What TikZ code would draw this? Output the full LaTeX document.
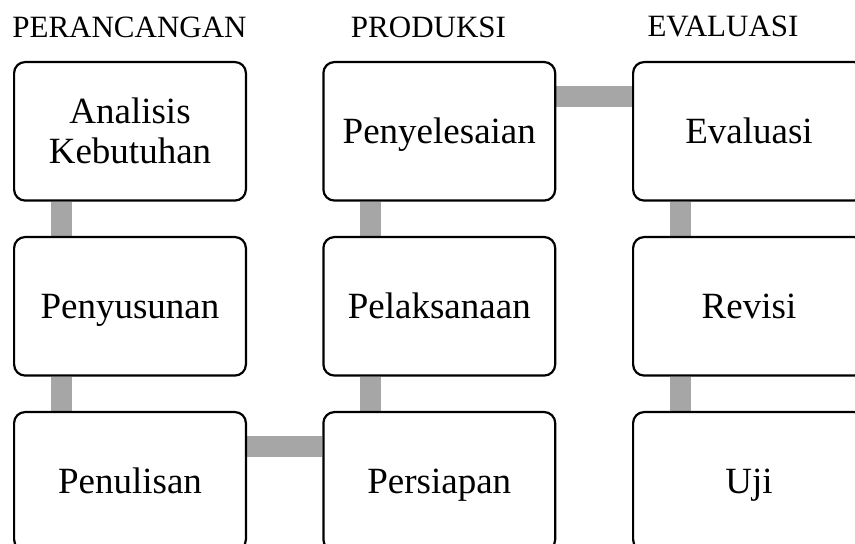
\documentclass[tikz,border=0pt]{standalone}
\usepackage{fontspec}
\setmainfont{Liberation Serif}
\usetikzlibrary{backgrounds}
\tikzset{
  stepbox/.style={draw=black, line width=2.2pt, rounded corners=11pt, fill=white,
    minimum width=231.8pt, minimum height=138.5pt, inner sep=0pt, align=center,
    font=\fontsize{37}{40}\selectfont},
  oneline/.style={stepbox, text height=25.3pt, text depth=0pt},
  header/.style={anchor=base, inner sep=0pt, font=\fontsize{31}{34}\selectfont},
  conn/.style={draw={rgb,255:red,166;green,166;blue,166}, line width=21pt}
}
\begin{document}
\begin{tikzpicture}[x=1pt,y=-1pt]
\useasboundingbox (0,0) rectangle (855,544);
\clip (0,0) rectangle (855,544);
\node[header] (h1) at (129.5,37.5) {PERANCANGAN};
\node[header] (h2) at (428.5,37.5) {PRODUKSI};
\node[header] (h3) at (723,36) {EVALUASI};

\node[stepbox] (a1) at (130,131.3) {Analisis\\Kebutuhan};
\node[oneline] (a2) at (130,306.3) {Penyusunan};
\node[oneline] (a3) at (130,481.3) {Penulisan};
\node[oneline] (b1) at (439.3,131.3) {Penyelesaian};
\node[oneline] (b2) at (439.3,306.3) {Pelaksanaan};
\node[oneline] (b3) at (439.3,481.3) {Persiapan};
\node[oneline] (c1) at (749,131.3) {Evaluasi};
\node[oneline] (c2) at (749,306.3) {Revisi};
\node[oneline] (c3) at (749,481.3) {Uji};

\begin{pgfonlayer}{background}
\draw[conn] ([xshift=-69pt]a1.south) -- ([xshift=-69pt]a2.north);
\draw[conn] ([xshift=-69pt]a2.south) -- ([xshift=-69pt]a3.north);
\draw[conn] ([xshift=-69pt]b3.north) -- ([xshift=-69pt]b2.south);
\draw[conn] ([xshift=-69pt]b2.north) -- ([xshift=-69pt]b1.south);
\draw[conn] ([xshift=-69pt]c1.south) -- ([xshift=-69pt]c2.north);
\draw[conn] ([xshift=-69pt]c2.south) -- ([xshift=-69pt]c3.north);
\draw[conn] ([yshift=35pt]a3.east) -- ([yshift=35pt]b3.west);
\draw[conn] ([yshift=35pt]b1.east) -- ([yshift=35pt]c1.west);
\end{pgfonlayer}
\end{tikzpicture}
\end{document}
